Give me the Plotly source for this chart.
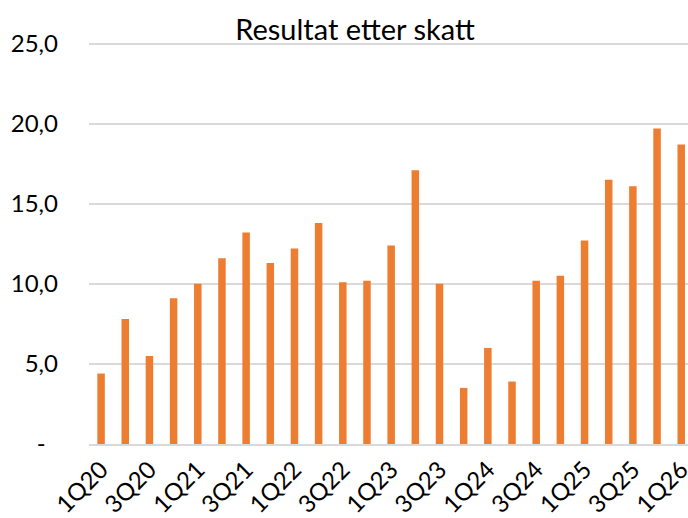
import plotly.graph_objects as go

quarters = ["1Q20","2Q20","3Q20","4Q20","1Q21","2Q21","3Q21","4Q21",
            "1Q22","2Q22","3Q22","4Q22","1Q23","2Q23","3Q23","4Q23",
            "1Q24","2Q24","3Q24","4Q24","1Q25","2Q25","3Q25","4Q25","1Q26"]
values = [4.4, 7.8, 5.5, 9.1, 10.0, 11.6, 13.2, 11.3,
          12.2, 13.8, 10.1, 10.2, 12.4, 17.1, 10.0, 3.5,
          6.0, 3.9, 10.2, 10.5, 12.7, 16.5, 16.1, 19.7, 18.7]
y_tickvals = [0, 5, 10, 15, 20, 25]
y_ticktext = ["-\u00a0\u00a0", "5,0", "10,0", "15,0", "20,0", "25,0"]
x_tickvals = quarters[::2]

FONT = "Lato, Open Sans, sans-serif"

fig = go.Figure(go.Bar(
    x=quarters, y=values, marker_color="#ED7D31",
    marker_line_width=0, width=0.31,
))

fig.update_layout(
    width=688, height=518,
    margin=dict(l=89, r=0, t=42, b=74, autoexpand=False),
    paper_bgcolor="white", plot_bgcolor="white",
    title=dict(text="Resultat etter skatt", x=0.516, xanchor="center",
               y=0.942, yanchor="middle", automargin=False,
               font=dict(family=FONT, size=29, color="#000000")),
    font=dict(family=FONT, color="#000000"),
    showlegend=False,
)
fig.update_xaxes(
    type="category", range=[-0.5, 24.28], automargin=False,
    tickvals=x_tickvals, ticktext=x_tickvals, tickangle=-45,
    tickfont=dict(size=24, family=FONT, color="#000000"),
    showgrid=False, showline=True, linecolor="#d9d9d9", linewidth=2,
    ticks="", zeroline=False,
)
fig.update_yaxes(
    range=[0, 25.1], tickvals=y_tickvals, ticktext=y_ticktext, automargin=False,
    tickfont=dict(size=24, family=FONT, color="#000000"),
    showgrid=True, gridcolor="#d9d9d9", gridwidth=1.5,
    zeroline=False, showline=False, ticks="", ticklabelstandoff=30,
)

fig.write_html("out.html", config={"displayModeBar": False},
               post_script="document.body.style.margin='0';")
